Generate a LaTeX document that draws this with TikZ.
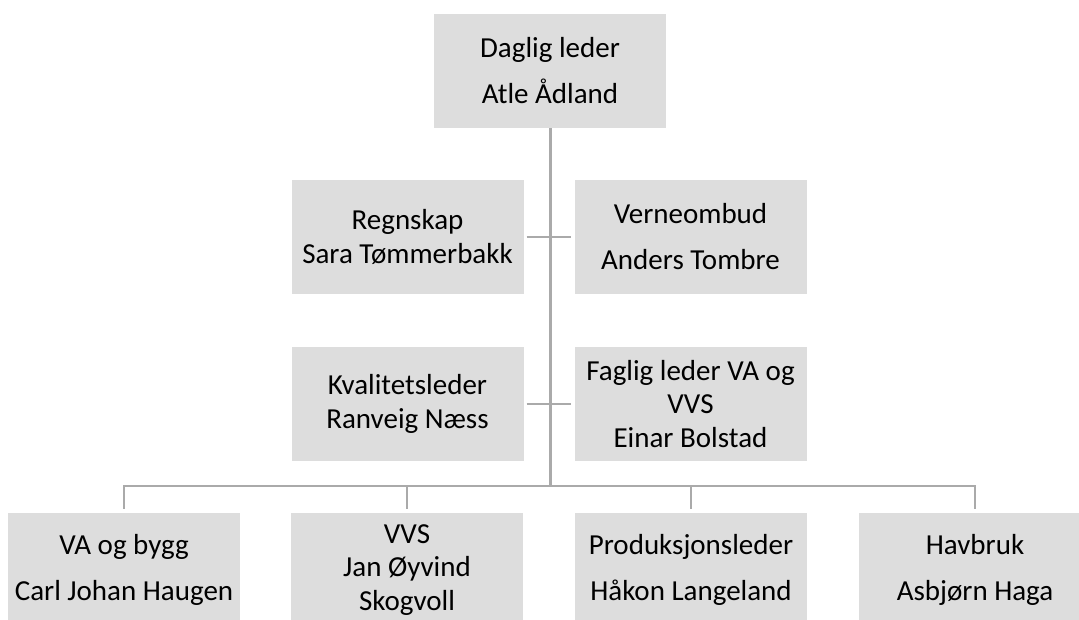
\documentclass[tikz,border=0pt]{standalone}
\usepackage{fontspec}
\setmainfont{Carlito}
\usepackage{tikz}
\usetikzlibrary{positioning}
\definecolor{boxgrey}{HTML}{DDDDDD}
\definecolor{linegrey}{HTML}{AAAAAA}
\tikzstyle{link} = [draw=linegrey,line width=2pt]

\begin{document}
\begin{tikzpicture}[x=1pt,y=1pt]
                \tikzstyle{unit}=[fill=boxgrey,draw=none,minimum width=232pt,minimum height=114pt,inner sep=0pt,align=center,font=\fontsize{29}{33.5}\selectfont]
                \path [use as bounding box,clip] (0,0) rectangle (1079,619);

                \node [unit] (leder) at (550,548)
                {Daglig leder\\[12.5pt]Atle Ådland};
                \node [unit] (regnskap) at (407.5,382)
                {Regnskap\\Sara Tømmerbakk};
                \node [unit] (verneombud) at (690.5,382)
                {Verneombud\\[12.5pt]Anders Tombre};
                \node [unit] (kvalitet) at (407.5,215)
                {Kvalitetsleder\\Ranveig Næss};
                \node [unit] (faglig) at (690.5,215)
                {Faglig leder VA og\\VVS\\Einar Bolstad};

                \node [unit] (vabygg) at (124,49)
                {VA og bygg\\[12.5pt]Carl Johan Haugen};
                \node [unit] (vvs) at (407,49)
                {VVS\\Jan Øyvind\\Skogvoll};
                \node [unit] (produksjon) at (691,49)
                {Produksjonsleder\\[12.5pt]Håkon Langeland};
                \node [unit] (havbruk) at (975,49)
                {Havbruk\\[12.5pt]Asbjørn Haga};

                \coordinate (bus) at (leder.south |- 0,133);
                \draw [link, line width=3pt] (leder.south) -- (bus);
                \draw [link, shorten <=3pt, shorten >=3pt] (regnskap.east) -- (verneombud.west);
                \draw [link, shorten <=3pt, shorten >=3pt] (kvalitet.east) -- (faglig.west);
                \draw [link, shorten >=4pt] (bus) -| (vabygg.north);
                \draw [link, shorten >=4pt] (bus) -| (vvs.north);
                \draw [link, shorten >=4pt] (bus) -| (produksjon.north);
                \draw [link, shorten >=4pt] (bus) -| (havbruk.north);
            \end{tikzpicture}
\end{document}
